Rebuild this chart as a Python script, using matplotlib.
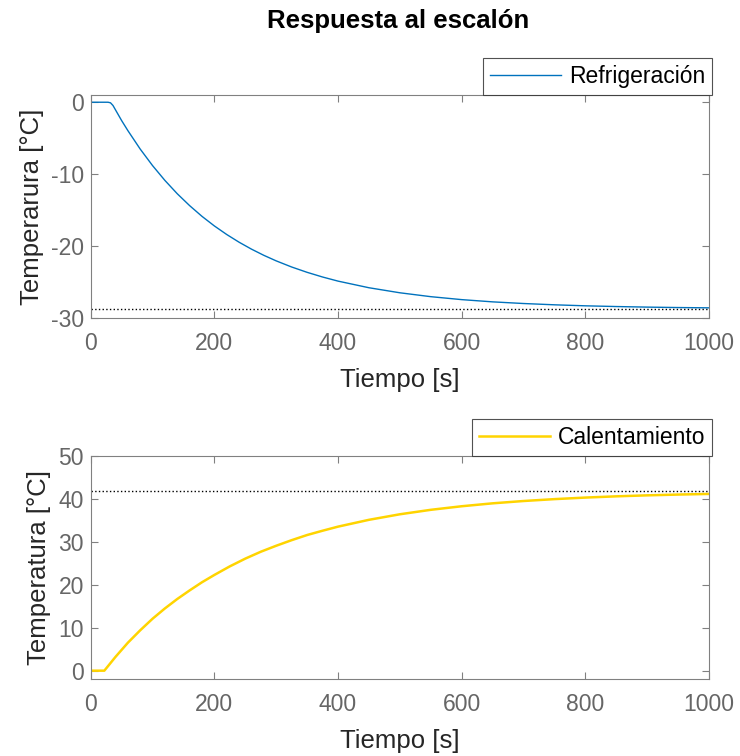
import numpy as np
import matplotlib
matplotlib.use("Agg")
import matplotlib.pyplot as plt

plt.rcParams['font.family'] = ['Liberation Sans', 'DejaVu Sans']
plt.rcParams['axes.unicode_minus'] = False

# Datos
t_frio = [0, 20, 28, 32, 36, 40, 50, 60, 80, 100, 120, 140, 160, 180, 200, 220,
          240, 260, 280, 300, 325, 350, 375, 400, 450, 500, 550, 600, 650, 700,
          750, 800, 850, 900, 950, 1000]
T_frio = [0, 0, 0, -0.08, -0.45, -1.05, -2.55, -3.93, -6.50, -8.80, -10.86, -12.71,
          -14.36, -15.85, -17.18, -18.37, -19.44, -20.40, -21.26, -22.03, -22.88,
          -23.62, -24.27, -24.84, -25.76, -26.46, -27.00, -27.41, -27.72, -27.95,
          -28.13, -28.27, -28.37, -28.45, -28.51, -28.55]
ref_frio = -28.7

t_calor = [0, 22, 40, 60, 80, 100, 120, 140, 160, 180, 200, 225, 250, 275, 300,
           325, 350, 375, 400, 450, 500, 550, 600, 650, 700, 750, 800, 850, 900,
           950, 1000]
T_calor = [0, 0, 3.2, 6.5, 9.4, 12.1, 14.5, 16.7, 18.7, 20.6, 22.3, 24.3, 26.1,
           27.7, 29.1, 30.4, 31.6, 32.6, 33.55, 35.14, 36.43, 37.47, 38.30, 38.98,
           39.52, 39.96, 40.32, 40.61, 40.84, 41.02, 41.17]
ref_calor = 41.8

gris = '#666666'

fig = plt.figure(figsize=(7.4, 7.56), dpi=100)
ax1 = fig.add_axes([0.1226, 0.579, 0.8355, 0.2953])
ax2 = fig.add_axes([0.1226, 0.1015, 0.8355, 0.2953])

ax1.plot(t_frio, T_frio, color='#0072BD', lw=1.0, label='Refrigeración')
ax1.plot([0, 1000], [ref_frio, ref_frio], ':', color='black', lw=1.0)
ax1.set_xlim(0, 1000)
ax1.set_ylim(-30, 1)
ax1.set_yticks([-30, -20, -10, 0])

ax2.plot(t_calor, T_calor, color='#FFD400', lw=1.8, label='Calentamiento')
ax2.plot([0, 1000], [ref_calor, ref_calor], ':', color='black', lw=1.0)
ax2.set_xlim(0, 1000)
ax2.set_ylim(-2, 50)
ax2.set_yticks([0, 10, 20, 30, 40, 50])

for ax, ylab in [(ax1, 'Temperarura [°C]'), (ax2, 'Temperatura [°C]')]:
    ax.set_xticks([0, 200, 400, 600, 800, 1000])
    ax.tick_params(direction='in', top=True, right=True, length=5, width=0.8,
                   colors='#808080', labelcolor=gris, labelsize=16.5)
    ax.tick_params(axis='x', pad=10)
    ax.tick_params(axis='y', pad=5)
    for s in ax.spines.values():
        s.set_color('#808080')
        s.set_linewidth(0.8)
    ax.set_xlabel('Tiempo [s]', fontsize=18.5, color='#262626', labelpad=9)
    ax.set_ylabel(ylab, fontsize=18.5, color='#262626', labelpad=5)
    leg = ax.legend(loc='lower right', bbox_to_anchor=(1.005, 1.0), fontsize=16.5,
                    frameon=True, fancybox=False, handlelength=3.1, handletextpad=0.35,
                    borderpad=0.3, borderaxespad=0)
    leg.get_frame().set_edgecolor('#262626')
    leg.get_frame().set_linewidth(0.8)

fig.text(0.538, 0.972, 'Respuesta al escalón', ha='center', va='center',
         fontsize=18.5, fontweight='bold')

fig.savefig('out.png', dpi=100)
